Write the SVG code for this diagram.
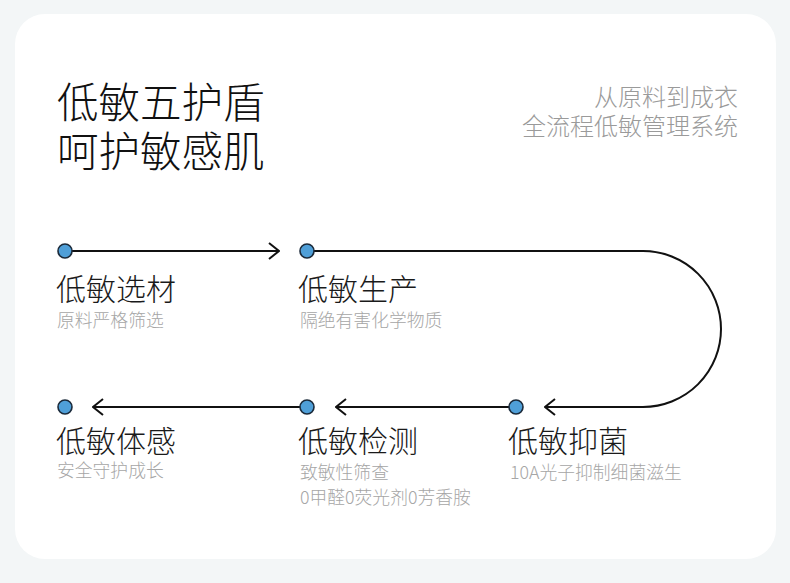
<svg xmlns="http://www.w3.org/2000/svg" width="790" height="583" viewBox="0 0 790 583">
<style>
.t{font-family:"Noto Sans CJK SC","Noto Sans",sans-serif;}
.title{font-size:41.5px;fill:#111;font-weight:300;}
.sub{font-size:24px;fill:#9a9a9a;font-weight:300;}
.lab{font-size:30px;fill:#1a1a1a;font-weight:300;}
.desc{font-size:17.8px;fill:#a6a6a6;font-weight:300;}
.ln{fill:none;stroke:#111;stroke-width:2;}
.dot{fill:#4f9fd8;stroke:#1b2a3a;stroke-width:1.6;}
</style>
<defs>
<marker id="chev" viewBox="0 0 12 18" refX="11" refY="9" markerWidth="12" markerHeight="18" markerUnits="userSpaceOnUse" orient="auto">
<path d="M1,1 L11,9 L1,17" fill="none" stroke="#111" stroke-width="2"/>
</marker>
</defs>
<rect x="0" y="0" width="790" height="583" fill="#f3f6f7"/>
<rect x="15" y="14" width="761" height="545" rx="30" fill="#fff"/>
<g id="title">
<text class="t title" x="57" y="118">低敏五护盾</text>
<text class="t title" x="57" y="167">呵护敏感肌</text>
</g>
<g id="subtitle">
<text class="t sub" x="738" y="106" text-anchor="end">从原料到成衣</text>
<text class="t sub" x="738" y="135" text-anchor="end">全流程低敏管理系统</text>
</g>
<g id="connectors">
<path class="ln" d="M72,251 H279" marker-end="url(#chev)"/>
<path class="ln" d="M314,251 H643 A78,78 0 0 1 643,407 H545" marker-end="url(#chev)"/>
<path class="ln" d="M509,407 H336" marker-end="url(#chev)"/>
<path class="ln" d="M300,407 H93" marker-end="url(#chev)"/>
</g>
<g id="node1">
<circle class="dot" cx="65" cy="251" r="7"/>
<text class="t lab" x="56" y="300">低敏选材</text>
<text class="t desc" x="57" y="327">原料严格筛选</text>
</g>
<g id="node2">
<circle class="dot" cx="307" cy="251" r="7"/>
<text class="t lab" x="298" y="300">低敏生产</text>
<text class="t desc" x="300" y="327">隔绝有害化学物质</text>
</g>
<g id="node3">
<circle class="dot" cx="516" cy="407" r="7"/>
<text class="t lab" x="508" y="452">低敏抑菌</text>
<text class="t desc" x="510" y="479">10A光子抑制细菌滋生</text>
</g>
<g id="node4">
<circle class="dot" cx="307" cy="407" r="7"/>
<text class="t lab" x="298" y="452">低敏检测</text>
<text class="t desc" x="300" y="479">致敏性筛查</text>
<text class="t desc" x="300" y="504">0甲醛0荧光剂0芳香胺</text>
</g>
<g id="node5">
<circle class="dot" cx="65" cy="407" r="7"/>
<text class="t lab" x="56" y="452">低敏体感</text>
<text class="t desc" x="57" y="477">安全守护成长</text>
</g>
</svg>
